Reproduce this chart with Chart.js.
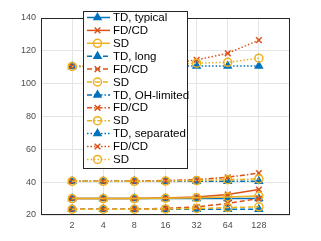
<!DOCTYPE html>
<html>
<head>
<meta charset="utf-8">
<script src="https://cdn.jsdelivr.net/npm/chart.js@4.4.0/dist/chart.umd.min.js"></script>
<style>
  html, body { margin: 0; padding: 0; background: #fff; }
  #wrap { width: 321px; height: 241px; }
</style>
</head>
<body>
<div id="wrap"><canvas id="c" width="321" height="241"></canvas></div>
<script>
// x values (log2 axis)
const xs = [2, 4, 8, 16, 32, 64, 128];
const yTicks = [20, 40, 60, 80, 100, 120, 140];

// typical (solid)
const tdTypical = [30, 30, 30, 30, 30, 30, 30];
const fdTypical = [30, 30, 30, 30.3, 31, 32.5, 35.5];
const sdTypical = [30, 30, 30, 30.2, 30.5, 31, 31.5];
// long (dashed)
const tdLong = [23.5, 23.5, 23.5, 23.5, 23.5, 23.5, 23.5];
const fdLong = [23.5, 23.5, 23.6, 24, 25, 27, 30];
const sdLong = [23.5, 23.5, 23.5, 23.7, 24, 24.5, 25];
// OH-limited (dash-dot)
const tdOH = [40.5, 40.5, 40.5, 40.5, 40.5, 40.5, 40.5];
const fdOH = [40.5, 40.5, 40.6, 41, 41.5, 43, 45.5];
const sdOH = [40.5, 40.5, 40.5, 40.7, 41, 41.5, 42];
// separated (dotted)
const tdSep = [110.5, 110.5, 110.6, 110.7, 110.8, 110.8, 110.8];
const fdSep = [110.5, 110.8, 111.2, 112, 114.5, 118.5, 126.5];
const sdSep = [110.5, 110.6, 110.8, 111.2, 112.5, 113, 115.5];

const labels = ['TD, typical', 'FD/CD', 'SD', 'TD, long', 'FD/CD', 'SD',
  'TD, OH-limited', 'FD/CD', 'SD', 'TD, separated', 'FD/CD', 'SD'];
const series = [tdTypical, fdTypical, sdTypical, tdLong, fdLong, sdLong,
  tdOH, fdOH, sdOH, tdSep, fdSep, sdSep];

const BLUE = '#0072BD', ORANGE = '#D95319', YELLOW = '#EDB120';
const colors = [BLUE, ORANGE, YELLOW];
const styles = ['triangle', 'crossRot', 'circle'];
const dashes = [[], [5, 3], [5, 2, 1.5, 2], [1.5, 2]];

const datasets = series.map((vals, i) => {
  const k = i % 3, g = Math.floor(i / 3);
  const fill = k === 0 ? BLUE : (k === 2 ? 'rgba(255,255,255,0)' : colors[k]);
  return {
    label: labels[i],
    data: xs.map((x, j) => ({ x: x, y: vals[j] })),
    borderColor: colors[k],
    backgroundColor: fill,
    pointBorderColor: colors[k],
    pointBackgroundColor: fill,
    pointStyle: styles[k],
    pointRadius: 4,
    pointBorderWidth: 1.5,
    borderWidth: 1.5,
    borderDash: dashes[g],
    tension: 0,
    order: 12 - i
  };
});

// legend box + axes box drawn on the canvas
const boxLegend = {
  id: 'boxLegend',
  afterDraw(chart) {
    const ctx = chart.ctx, a = chart.chartArea;
    ctx.save();
    ctx.strokeStyle = '#262626';
    ctx.lineWidth = 1;
    ctx.setLineDash([]);
    ctx.strokeRect(a.left + 0.5, a.top + 0.5, a.right - a.left - 1, a.bottom - a.top - 1);

    const lx = 83.5, ly = 11.5, lw = 104, lh = 157;
    ctx.fillStyle = '#fff';
    ctx.fillRect(lx, ly, lw, lh);
    ctx.strokeStyle = '#262626';
    ctx.lineWidth = 1;
    ctx.strokeRect(lx, ly, lw, lh);
    ctx.font = '11.5px "Liberation Sans", Arial, sans-serif';
    ctx.textBaseline = 'middle';
    datasets.forEach((ds, i) => {
      const y = 17.5 + i * 12.9;
      ctx.strokeStyle = ds.borderColor;
      ctx.lineWidth = 1.5;
      ctx.setLineDash(ds.borderDash);
      ctx.beginPath();
      ctx.moveTo(87, y);
      ctx.lineTo(110, y);
      ctx.stroke();
      ctx.setLineDash([]);
      ctx.fillStyle = ds.pointBackgroundColor;
      ctx.strokeStyle = ds.pointBorderColor;
      Chart.helpers.drawPoint(ctx, { pointStyle: ds.pointStyle, radius: 4, borderWidth: 1.5 }, 97.5, y);
      ctx.fillStyle = '#000';
      ctx.fillText(ds.label, 113, y + 0.5);
    });
    ctx.restore();
  }
};

new Chart(document.getElementById('c'), {
  type: 'line',
  data: { datasets },
  options: {
    responsive: false,
    animation: false,
    layout: { padding: { left: 0, right: 31, top: 18, bottom: 0 } },
    plugins: { legend: { display: false }, tooltip: { enabled: false } },
    scales: {
      x: {
        type: 'logarithmic',
        min: 1,
        max: 256,
        afterBuildTicks: s => { s.ticks = xs.map(v => ({ value: v })); },
        afterFit: s => { s.height = 26; },
        grid: { color: '#e5e5e5', drawTicks: false },
        border: { display: false },
        ticks: {
          color: '#4d4d4d', padding: 5,
          font: { family: '"Liberation Sans", Arial, sans-serif', size: 9 },
          maxRotation: 0, autoSkip: false,
          callback: v => String(v)
        }
      },
      y: {
        min: 20,
        max: 140,
        afterBuildTicks: s => { s.ticks = yTicks.map(v => ({ value: v })); },
        afterFit: s => { s.width = 41; },
        grid: { color: '#e5e5e5', drawTicks: false },
        border: { display: false },
        ticks: {
          color: '#4d4d4d', padding: 5,
          font: { family: '"Liberation Sans", Arial, sans-serif', size: 9 }
        }
      }
    }
  },
  plugins: [boxLegend]
});
</script>
</body>
</html>
